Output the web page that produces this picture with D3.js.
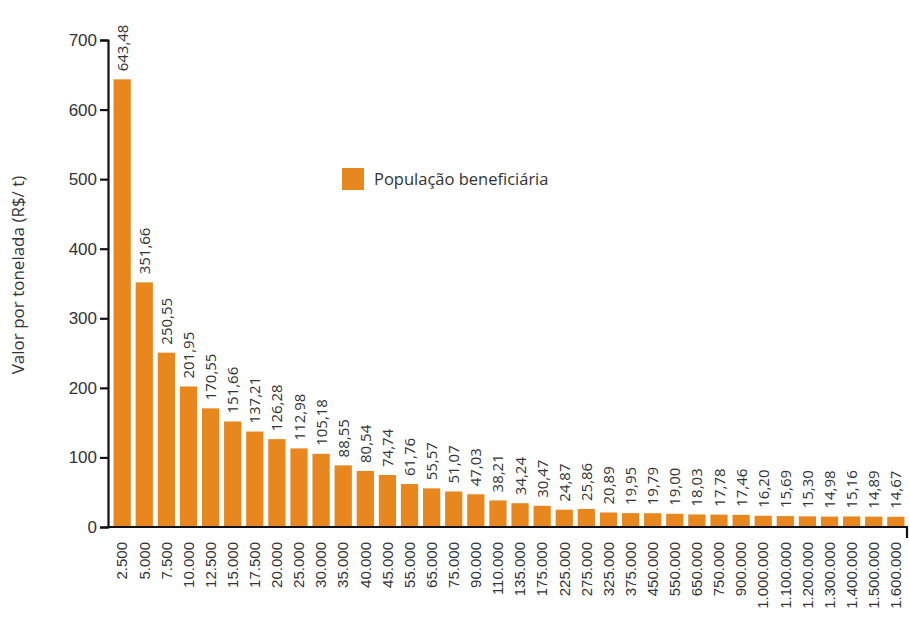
<!DOCTYPE html>
<html>
<head>
<meta charset="utf-8">
<script src="https://cdn.jsdelivr.net/npm/d3@7"></script>
<style>
  body { margin: 0; background: #fff; }
  svg { font-family: "Open Sans", "Noto Sans", sans-serif; }
  .tick text { fill: #333; }
</style>
</head>
<body>
<div id="chart"></div>
<script>
// População beneficiária (habitantes) vs valor por tonelada (R$/t)
const populacao = ['2.500', '5.000', '7.500', '10.000', '12.500', '15.000', '17.500', '20.000',
    '25.000', '30.000', '35.000', '40.000', '45.000', '55.000', '65.000', '75.000', '90.000',
    '110.000', '135.000', '175.000', '225.000', '275.000', '325.000', '375.000', '450.000',
    '550.000', '650.000', '750.000', '900.000', '1.000.000', '1.100.000', '1.200.000',
    '1.300.000', '1.400.000', '1.500.000', '1.600.000'];
const valores = [643.48, 351.66, 250.55, 201.95, 170.55, 151.66, 137.21, 126.28, 112.98, 105.18,
    88.55, 80.54, 74.74, 61.76, 55.57, 51.07, 47.03, 38.21, 34.24, 30.47, 24.87, 25.86, 20.89,
    19.95, 19.79, 19.00, 18.03, 17.78, 17.46, 16.20, 15.69, 15.30, 14.98, 15.16, 14.89, 14.67];
const yTicks = [0, 100, 200, 300, 400, 500, 600, 700];
const serieNome = 'População beneficiária';

const width = 909, height = 621;
const margin = { left: 108, right: 1, top: 40, bottom: 94 };
const color = '#E8871E';

const svg = d3.select('#chart')
    .append('svg')
    .attr('width', width)
    .attr('height', height);

const x = d3.scaleBand()
    .domain(populacao)
    .range([margin.left + 2, width - margin.right])
    .paddingInner(0.22)
    .paddingOuter(0.16);

const y = d3.scaleLinear()
    .domain([0, 700])
    .range([height - margin.bottom, margin.top]);

const fmt = v => d3.format('.2f')(v).replace('.', ',');

// Bars
svg.append('g')
    .selectAll('rect')
    .data(valores)
    .join('rect')
    .attr('x', (d, i) => x(populacao[i]))
    .attr('y', d => y(d))
    .attr('width', x.bandwidth())
    .attr('height', d => y(0) - y(d))
    .attr('fill', color);

// Value labels
svg.append('g')
    .selectAll('text')
    .data(valores)
    .join('text')
    .attr('transform', (d, i) => `translate(${x(populacao[i]) + x.bandwidth() / 2 + 5.5},${y(d) - 8}) rotate(-90)`)
    .attr('font-size', 15)
    .attr('fill', '#333')
    .text(d => fmt(d));

// Y axis
const yAxis = svg.append('g')
    .attr('transform', `translate(${margin.left},0)`)
    .call(d3.axisLeft(y).tickValues(yTicks).tickSize(8).tickPadding(3));
yAxis.select('.domain').attr('stroke-width', 2.2).attr('stroke', '#111');
yAxis.selectAll('.tick line').attr('stroke-width', 2.2).attr('stroke', '#111');
yAxis.selectAll('.tick text').attr('font-size', 17);

// X axis
const xAxis = svg.append('g')
    .attr('transform', `translate(0,${y(0)})`)
    .call(d3.axisBottom(x).tickSize(0).tickPadding(12));
xAxis.select('.domain').remove();
xAxis.selectAll('.tick text')
    .attr('font-size', 15)
    .attr('text-anchor', 'end')
    .attr('transform', 'rotate(-90)')
    .attr('x', -15)
    .attr('y', 0)
    .attr('dy', '0.35em');

svg.append('line')
    .attr('x1', margin.left - 1)
    .attr('x2', width - margin.right)
    .attr('y1', y(0))
    .attr('y2', y(0))
    .attr('stroke', '#111')
    .attr('stroke-width', 2.2);
svg.append('line')
    .attr('x1', width - margin.right - 1)
    .attr('x2', width - margin.right - 1)
    .attr('y1', y(0))
    .attr('y2', y(0) + 11)
    .attr('stroke', '#111')
    .attr('stroke-width', 2.2);

// Y title
svg.append('text')
    .attr('transform', `translate(24,275) rotate(-90)`)
    .attr('text-anchor', 'middle')
    .attr('font-size', 17)
    .attr('fill', '#333')
    .text('Valor por tonelada (R$/ t)');

// Legend
const legend = svg.append('g').attr('transform', 'translate(342,168)');
legend.append('rect')
    .attr('width', 22)
    .attr('height', 22)
    .attr('fill', color);
legend.append('text')
    .attr('x', 32)
    .attr('y', 17)
    .attr('font-size', 16.5)
    .attr('fill', '#333')
    .text(serieNome);
</script>
</body>
</html>
